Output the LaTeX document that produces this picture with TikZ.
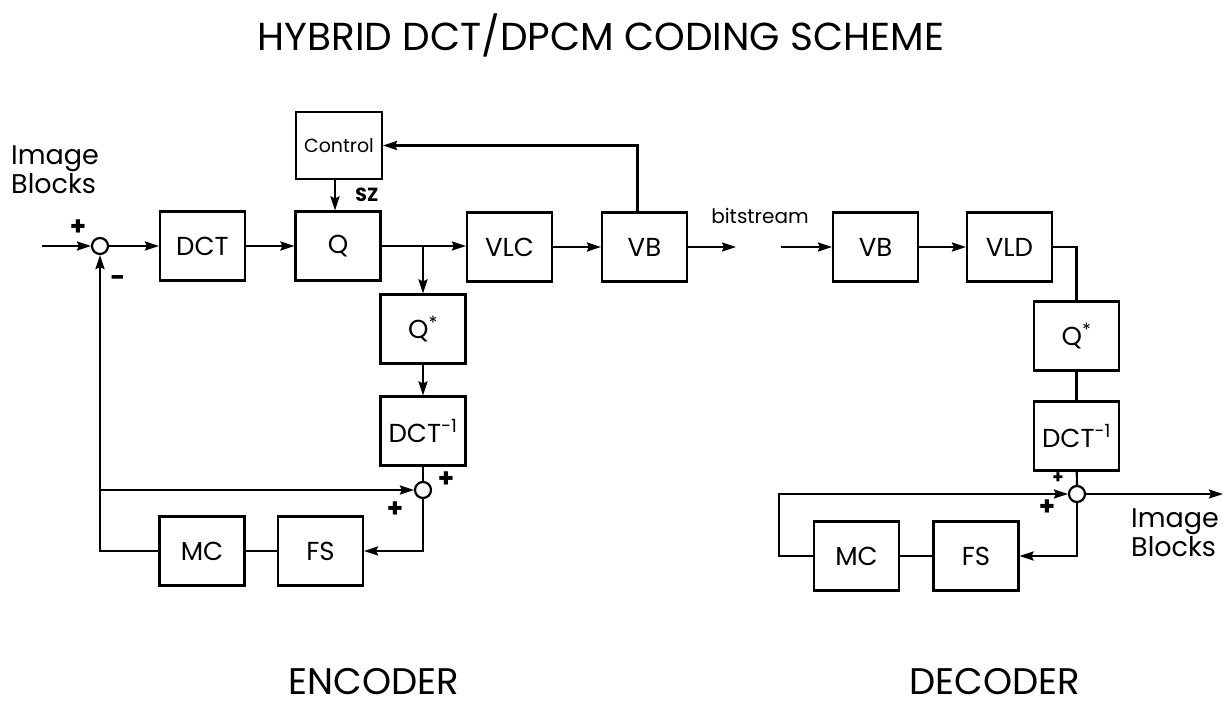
\documentclass[tikz,border=0pt]{standalone}
\usepackage{fontspec}
\setmainfont{Poppins}
\usetikzlibrary{arrows.meta}
\begin{document}
\begin{tikzpicture}[x=1pt,y=-1pt,
  blk/.style={draw, line width=2.2pt, minimum width=85pt, minimum height=69pt, inner sep=0pt, font=\fontsize{26}{28}\selectfont},
  sum/.style={circle, draw, line width=2.2pt, minimum size=16pt, inner sep=0pt},
  ln/.style={line width=2.2pt},
  arr/.style={line width=2.2pt, -{Stealth[length=14pt,width=9pt,inset=2pt]}},
  sgn/.style={font=\fontsize{26}{26}\selectfont\bfseries, inner sep=0pt},
  lbl/.style={font=\fontsize{27}{29}\selectfont, align=left, inner sep=0pt},
  big/.style={font=\fontsize{39}{40}\selectfont, inner sep=0pt}]
\useasboundingbox (0,0) rectangle (1224,709);

\node[big] (title) at (601,35) {HYBRID DCT/DPCM CODING SCHEME};
\node[big, font=\fontsize{37}{38}\selectfont] (enc) at (374,682) {ENCODER};
\node[big, font=\fontsize{37}{38}\selectfont] (dec) at (995,682) {DECODER};

% encoder
\node[lbl, anchor=west] (ib1) at (11,170) {Image\\Blocks};
\coordinate (in) at (42,246);
\node[sum] (s1) at (100,246) {};
\node[blk] (dct) at (202.5,246) {DCT};
\node[blk] (q) at (338,246) {Q};
\node[blk, minimum width=86pt, minimum height=67pt, font=\fontsize{19}{20}\selectfont] (ctl) at (339,145.5) {Control};
\node[blk] (vlc) at (509.5,247) {VLC};
\node[blk] (vb) at (644.5,247) {VB};
\node[blk] (qs) at (423,329) {Q\textsuperscript{*}};
\node[blk] (idct) at (423,431) {DCT\textsuperscript{-1}};
\node[sum] (s2) at (423,490) {};
\node[blk] (mc) at (202,551) {MC};
\node[blk] (fs) at (320.5,551) {FS};
\coordinate (br) at (423,246);
\coordinate (fb) at (100,490);
\coordinate (out) at (736,247);

\node[sgn] (p1) at (78,228) {+};
\node[sgn] (m1) at (118,281) {-};
\node[sgn] (p2) at (446,480) {+};
\node[sgn] (p3) at (395,510) {+};
\node[font=\fontsize{19}{20}\selectfont\bfseries, inner sep=0pt] (sz) at (367,195) {SZ};
\node[font=\fontsize{20}{20}\selectfont, inner sep=0pt] (bs) at (760,216) {bitstream};

\draw[arr] (in) -- (s1);
\draw[arr] (s1) -- (dct);
\draw[arr] (dct) -- (q);
\draw[arr] ([xshift=-4pt]ctl.south) -- ([xshift=-3pt]q.north);
\draw[arr] (q.east |- br) -- (vlc.west |- br);
\draw[arr] (br) -- (qs.north);
\draw[arr] (qs) -- (idct);
\draw[ln] (idct) -- (s2);
\draw[arr] (s2.south) |- (fs.east);
\draw[ln] (fs) -- (mc);
\draw[arr] (mc.west) -| (s1.south);
\draw[arr] (fb) -- (s2.west);
\draw[arr] (vlc) -- (vb);
\draw[arr] ([xshift=-7pt]vb.north) |- (ctl.east);
\draw[arr] (vb.east) -- (out);

% decoder
\coordinate (din) at (781,247);
\node[blk] (dvb) at (875.5,247) {VB};
\node[blk] (vld) at (1009.5,247) {VLD};
\node[blk] (dqs) at (1076.5,336) {Q\textsuperscript{*}};
\node[blk] (didct) at (1076.5,436) {DCT\textsuperscript{-1}};
\node[sum] (s3) at (1077,494) {};
\node[blk] (dmc) at (856.5,556) {MC};
\node[blk] (dfs) at (976,556) {FS};
\coordinate (dout) at (1223,494);
\coordinate (dl) at (779,494);
\node[lbl, anchor=west] (ib2) at (1131,533) {Image\\Blocks};
\node[sgn, font=\fontsize{18}{18}\selectfont\bfseries] (p4) at (1058,478) {+};
\node[sgn] (p5) at (1047,508) {+};

\draw[arr] (din) -- (dvb);
\draw[arr] (dvb) -- (vld);
\draw[ln] (vld.east) -| (dqs.north);
\draw[ln] (dqs) -- (didct);
\draw[ln] (didct) -- (s3);
\draw[arr] (s3) -- (dout);
\draw[arr] (s3.south) |- (dfs.east);
\draw[ln] (dfs) -- (dmc);
\draw[arr] (dmc.west) -| (dl) -- (s3.west);
\end{tikzpicture}
\end{document}
